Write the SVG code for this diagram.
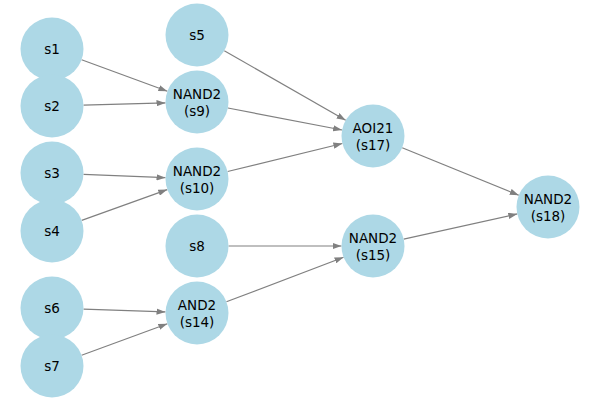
<svg xmlns="http://www.w3.org/2000/svg" width="600" height="400" viewBox="0 0 600 400">
<defs>
<marker id="ah" viewBox="0 0 10 7" refX="10" refY="3.5" markerUnits="userSpaceOnUse" markerWidth="9" markerHeight="6.3" orient="auto">
<path d="M0,0 L10,3.5 L0,7 z" fill="#808080"/>
</marker>
<style>
.n circle{fill:#add8e6;}
.n text{font-family:"DejaVu Sans",sans-serif;font-size:13.5px;fill:#000;text-anchor:middle;}
#edges line{stroke:#808080;stroke-width:1.2;marker-end:url(#ah);}
</style>
</defs>
<rect width="600" height="400" fill="#fff"/>
<g id="edges">
<line x1="81.6" y1="59.8" x2="167.4" y2="91.2"/>
<line x1="83.5" y1="105.1" x2="165.5" y2="102.9"/>
<line x1="83.5" y1="174.3" x2="165.5" y2="177.7"/>
<line x1="81.7" y1="220.4" x2="167.3" y2="189.6"/>
<line x1="83.5" y1="309.1" x2="165.5" y2="311.9"/>
<line x1="81.6" y1="355.2" x2="167.4" y2="323.8"/>
<line x1="224.3" y1="50.7" x2="345.7" y2="120.3"/>
<line x1="227.9" y1="108.0" x2="342.1" y2="130.0"/>
<line x1="227.6" y1="171.5" x2="342.4" y2="143.5"/>
<line x1="228.5" y1="246" x2="341.5" y2="246"/>
<line x1="226.4" y1="301.8" x2="343.6" y2="257.2"/>
<line x1="402.2" y1="147.8" x2="518.8" y2="195.2"/>
<line x1="403.7" y1="239.1" x2="517.3" y2="213.9"/>
</g>
<g id="s1" class="n"><circle cx="52" cy="49" r="31.5"/><text x="52" y="54">s1</text></g>
<g id="s2" class="n"><circle cx="52" cy="106" r="31.5"/><text x="52" y="111">s2</text></g>
<g id="s3" class="n"><circle cx="52" cy="173" r="31.5"/><text x="52" y="178">s3</text></g>
<g id="s4" class="n"><circle cx="52" cy="231" r="31.5"/><text x="52" y="236">s4</text></g>
<g id="s6" class="n"><circle cx="52" cy="308" r="31.5"/><text x="52" y="313">s6</text></g>
<g id="s7" class="n"><circle cx="52" cy="366" r="31.5"/><text x="52" y="371">s7</text></g>
<g id="s5" class="n"><circle cx="197" cy="35" r="31.5"/><text x="197" y="40">s5</text></g>
<g id="s9" class="n"><circle cx="197" cy="102" r="31.5"/><text x="197" y="98.5">NAND2</text><text x="197" y="115.5">(s9)</text></g>
<g id="s10" class="n"><circle cx="197" cy="179" r="31.5"/><text x="197" y="175.5">NAND2</text><text x="197" y="192.5">(s10)</text></g>
<g id="s8" class="n"><circle cx="197" cy="246" r="31.5"/><text x="197" y="251">s8</text></g>
<g id="s14" class="n"><circle cx="197" cy="313" r="31.5"/><text x="197" y="309.5">AND2</text><text x="197" y="326.5">(s14)</text></g>
<g id="s17" class="n"><circle cx="373" cy="136" r="31.5"/><text x="373" y="132.5">AOI21</text><text x="373" y="149.5">(s17)</text></g>
<g id="s15" class="n"><circle cx="373" cy="246" r="31.5"/><text x="373" y="242.5">NAND2</text><text x="373" y="259.5">(s15)</text></g>
<g id="s18" class="n"><circle cx="548" cy="207" r="31.5"/><text x="548" y="203.5">NAND2</text><text x="548" y="220.5">(s18)</text></g>
</svg>
